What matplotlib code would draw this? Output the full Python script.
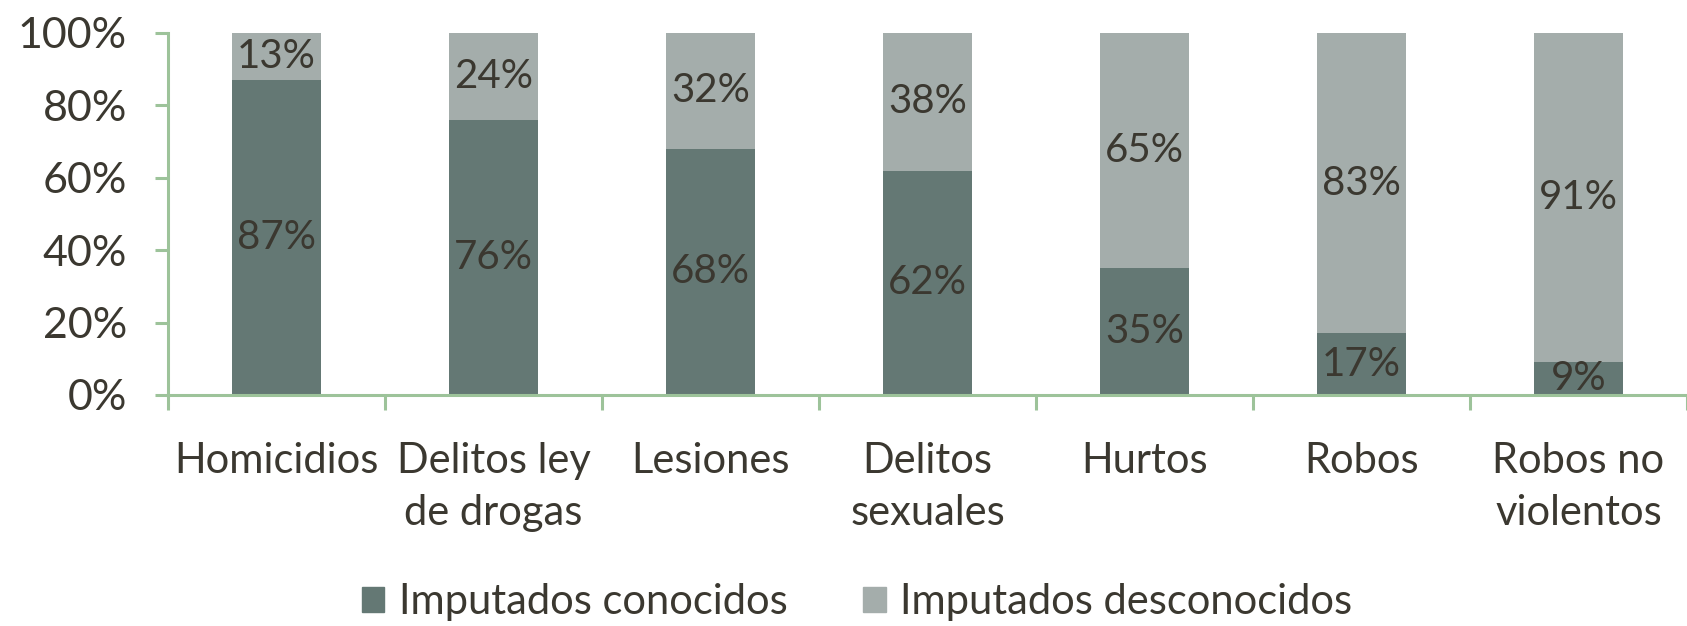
import matplotlib.pyplot as plt
from matplotlib.patches import Patch

categories = ["Homicidios", "Delitos ley\nde drogas", "Lesiones", "Delitos\nsexuales",
              "Hurtos", "Robos", "Robos no\nviolentos"]
conocidos = [87, 76, 68, 62, 35, 17, 9]
desconocidos = [13, 24, 32, 38, 65, 83, 91]

dark = "#647874"
light = "#a4adab"
txt = "#3b3830"
green = "#9dc39a"

plt.rcParams['font.family'] = ['Lato', 'DejaVu Sans']

fig = plt.figure(figsize=(16.87, 6.26), dpi=100)
ax = fig.add_axes([168 / 1687, 1 - 395 / 626, 1 - 168 / 1687, (395 - 33) / 626])

x = range(len(categories))
ax.bar(x, conocidos, width=0.41, color=dark)
ax.bar(x, desconocidos, width=0.41, bottom=conocidos, color=light)

# etiquetas dentro de cada segmento
for i in x:
    ax.text(i, conocidos[i] / 2, f"{conocidos[i]}%", ha="center", va="center",
            fontsize=29, color=txt)
    ax.text(i, conocidos[i] + desconocidos[i] / 2, f"{desconocidos[i]}%", ha="center",
            va="center", fontsize=29, color=txt)

ax.set_xlim(-0.5, 6.5)
ax.set_ylim(0, 100)
ax.set_yticks(range(0, 101, 20))
ax.set_yticklabels([f"{v}%" for v in range(0, 101, 20)], fontsize=31, color=txt)
ax.set_xticks(list(x))
ax.set_xticklabels(categories, fontsize=30, color=txt, linespacing=1.45)
ax.set_xticks([i - 0.5 for i in range(8)], minor=True)
ax.tick_params(axis="x", which="major", length=0, pad=34)
ax.tick_params(axis="x", which="minor", length=11, width=2.2, color=green)
ax.tick_params(axis="y", length=9.5, width=2.2, color=green, pad=20)

for s in ["top", "right"]:
    ax.spines[s].set_visible(False)
for s in ["left", "bottom"]:
    ax.spines[s].set_color(green)
    ax.spines[s].set_linewidth(2.2)

handles = [Patch(color=dark, label="Imputados conocidos"),
           Patch(color=light, label="Imputados desconocidos")]
leg = fig.legend(handles=handles, loc="center", bbox_to_anchor=(0.508, 0.038), ncol=2,
                 frameon=False, fontsize=30, handlelength=0.55, handleheight=0.55,
                 handletextpad=0.35, columnspacing=1.8)
for t in leg.get_texts():
    t.set_color(txt)

fig.savefig("out.png", dpi=100)
